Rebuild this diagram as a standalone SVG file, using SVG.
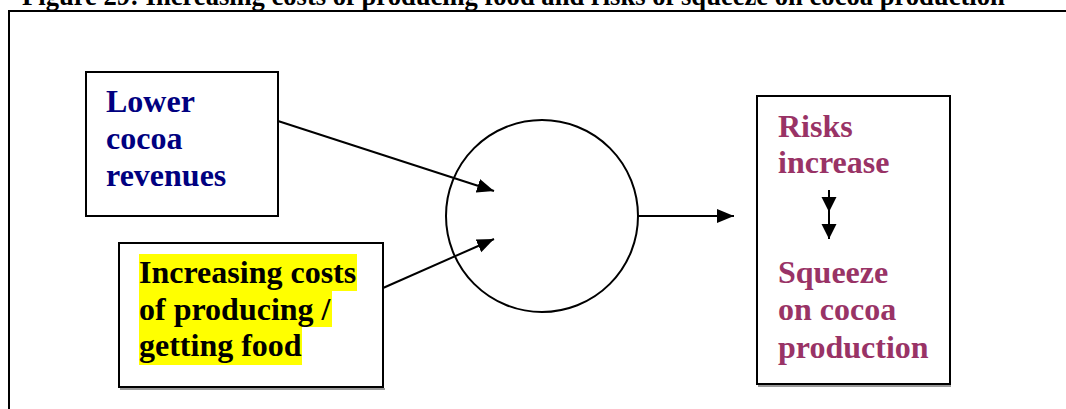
<svg xmlns="http://www.w3.org/2000/svg" width="1066" height="409" viewBox="0 0 1066 409">
<style>
.t{font-family:"Liberation Serif","Times New Roman",serif;font-weight:bold;font-size:32px}
.box{fill:#fff;stroke:#000;stroke-width:2}
.sh{fill:none;stroke:#999;stroke-width:2}
.ln{stroke:#000;stroke-width:2;fill:none}
.blue{fill:#000080}
.mar{fill:#993366}
.hl{fill:#ffff00}
</style>
<defs>
<marker id="ah" markerUnits="userSpaceOnUse" markerWidth="18" markerHeight="16" viewBox="0 0 18 16" refX="17" refY="8" orient="auto">
<path d="M0,1 L17,8 L0,15 Z" fill="#000"/>
</marker>
<marker id="ahs" markerUnits="userSpaceOnUse" markerWidth="16" markerHeight="16" viewBox="0 0 16 16" refX="15" refY="8" orient="auto">
<path d="M0,0.5 L15,8 L0,15.5 Z" fill="#000"/>
</marker>
</defs>
<text x="22" y="5" class="t" style="font-size:26.6px" fill="#000">Figure 29: Increasing costs of producing food and risks of squeeze on cocoa production</text>
<g id="frame">
<line x1="9" y1="11" x2="1066" y2="11" stroke="#000" stroke-width="2"/>
<line x1="9" y1="10" x2="9" y2="409" stroke="#000" stroke-width="2"/>
</g>
<g id="node-lower">
<rect class="box" x="86" y="72" width="192" height="144"/>
<text class="t blue" x="106" y="112">Lower</text>
<text class="t blue" x="106" y="149">cocoa</text>
<text class="t blue" x="106" y="186">revenues</text>
</g>
<g id="node-costs">
<line class="sh" x1="120" y1="389" x2="385" y2="389"/>
<rect class="box" x="119" y="243" width="264" height="144"/>
<rect class="hl" x="139" y="254" width="218" height="37"/>
<rect class="hl" x="139" y="291" width="193" height="36"/>
<rect class="hl" x="139" y="327" width="163" height="38"/>
<text class="t" x="139" y="283">Increasing costs</text>
<text class="t" x="139" y="320">of producing /</text>
<text class="t" x="139" y="356">getting food</text>
</g>
<g id="node-circle">
<circle cx="542" cy="216" r="96" fill="none" stroke="#000" stroke-width="2"/>
</g>
<g id="node-risks">
<line class="sh" x1="758" y1="386" x2="951" y2="386"/>
<rect class="box" x="757" y="96" width="193" height="288"/>
<text class="t mar" x="778" y="137">Risks</text>
<text class="t mar" x="778" y="173">increase</text>
<text class="t mar" x="778" y="283">Squeeze</text>
<text class="t mar" x="778" y="320">on cocoa</text>
<text class="t mar" x="778" y="358">production</text>
</g>
<g id="connectors">
<line class="ln" x1="278" y1="121" x2="494" y2="191" marker-end="url(#ah)"/>
<line class="ln" x1="383" y1="288" x2="494" y2="239" marker-end="url(#ah)"/>
<line class="ln" x1="638" y1="216" x2="734" y2="216" marker-end="url(#ah)"/>
<path class="ln" d="M829,190 L829,212 L829,239" marker-mid="url(#ahs)" marker-end="url(#ahs)"/>
</g>
</svg>
